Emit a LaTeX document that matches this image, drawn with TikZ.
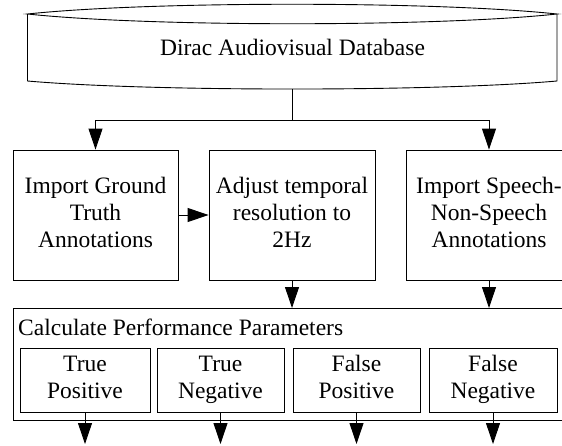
\documentclass[tikz,border=0pt]{standalone}
\usepackage{fontspec}
\setmainfont{Liberation Serif}
\usetikzlibrary{arrows.meta}
\begin{document}
\begin{tikzpicture}[x=1pt,y=-1pt,
  every node/.style={font=\fontsize{23.5}{27}\selectfont, inner sep=0pt},
  outl/.style={draw=black, line width=0.9pt},
  boxnode/.style={outl, align=center, minimum width=166pt, minimum height=130pt},
  smallbox/.style={outl, align=center, minimum width=129pt, minimum height=64pt},
  arr/.style={line width=0.9pt, -{Triangle[length=21pt,width=14pt]}},
  conn/.style={line width=0.9pt}]
\useasboundingbox (0,0) rectangle (562,445);
% database shape
\draw[outl] (27.5,14) .. controls (150,1) and (435,1) .. (557,14)
  .. controls (435,27) and (150,27) .. (27.5,14) -- cycle;
\draw[outl] (27.5,14) -- (27.5,81) .. controls (150,91.7) and (435,91.7) .. (557,81) -- (557,14);
\node (db) at (292.5,47) {Dirac Audiovisual Database};
\coordinate (dbbot) at (292.5,89);
\coordinate (j) at (292.5,120);
% boxes
\node[boxnode, minimum width=165pt] (gt) at (95.5,215) {\strut Import Ground\\\strut Truth\\\strut Annotations};
\node[boxnode] (adj) at (292,215) {\strut Adjust temporal\\\strut resolution to\\\strut 2Hz};
\node[boxnode] (sp) at (489,215) {\strut Import Speech-\\\strut Non-Speech\\\strut Annotations};
% big box
\node[outl, minimum width=560pt, minimum height=112pt, anchor=north west] (calc) at (13,308) {};
\node[anchor=base west] (calct) at (18,335) {Calculate Performance Parameters};
\node[smallbox, minimum width=130pt] (tp) at (85,380) {\strut True\\\strut Positive};
\node[smallbox, minimum width=127pt] (tn) at (220.5,380) {\strut True\\\strut Negative};
\node[smallbox, minimum width=127pt] (fp) at (356.5,380) {\strut False\\\strut Positive};
\node[smallbox, minimum width=128pt] (fn) at (493,380) {\strut False\\\strut Negative};
\coordinate (ea) at (85,444);
\coordinate (eb) at (220.5,444);
\coordinate (ec) at (356.5,444);
\coordinate (ed) at (493,444);
% connectors
\draw[conn] (dbbot) -- (j);
\draw[arr] (j) -| (gt.north);
\draw[arr] (j) -| (sp.north);
\draw[arr] (gt.east) -- (adj.west);
\draw[arr] (adj.south) -- (adj.south |- calc.north);
\draw[arr] (sp.south) -- (sp.south |- calc.north);
\draw[arr] (tp.south) -- (ea);
\draw[arr] (tn.south) -- (eb);
\draw[arr] (fp.south) -- (ec);
\draw[arr] (fn.south) -- (ed);
\end{tikzpicture}
\end{document}
